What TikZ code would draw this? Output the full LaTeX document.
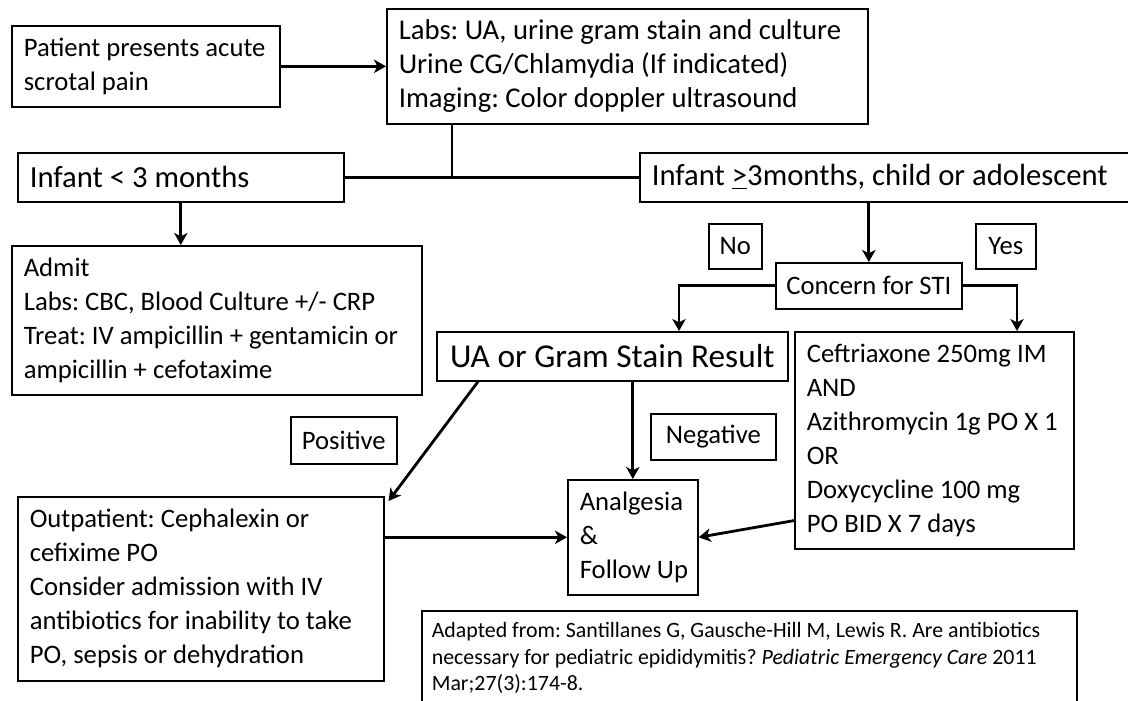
\documentclass[tikz,border=0pt]{standalone}
\usepackage{fontspec}
\setmainfont{Carlito}
\usetikzlibrary{arrows.meta,calc}
\newcommand\fmain{\fontsize{20}{25.5}\selectfont\frenchspacing}
\newcommand\flabs{\fontsize{21.5}{25.5}\selectfont\frenchspacing}
\newcommand\fbig{\fontsize{23}{27}\selectfont\frenchspacing}
\newcommand\fua{\fontsize{25}{28}\selectfont\frenchspacing}
\newcommand\fcite{\fontsize{16.4}{19.8}\selectfont\frenchspacing}
\begin{document}
\begin{tikzpicture}[x=0.75pt,y=-0.75pt,
  box/.style={draw,line width=1.2pt,rectangle,anchor=north west,inner xsep=9pt,inner ysep=0pt,align=flush left,font=\fmain},
  cbox/.style={draw,line width=1.2pt,rectangle,anchor=north west,inner sep=0pt,align=flush center,font=\fmain},
  conn/.style={line width=2.1pt},
  arr/.style={line width=2.1pt,-{Stealth[length=9pt,width=10pt,inset=2.5pt]}}]
\fill[white] (0,0) rectangle (1128,700);
\clip (0,0) rectangle (1128,700);
\node[box,minimum width=201pt,minimum height=60.75pt,text width=183pt] (patient) at (11,25) {\mbox{Patient presents acute}\\scrotal pain};
\node[box,font=\flabs,minimum width=360.75pt,minimum height=86.25pt,text width=342.75pt] (labs) at (386,8) {\mbox{Labs: UA, urine gram stain and culture}\\\mbox{Urine CG/Chlamydia (If indicated)}\\\mbox{Imaging: Color doppler ultrasound}};
\node[box,font=\fbig,minimum width=244.5pt,minimum height=36.75pt,text width=226.5pt] (inf1) at (17,152) {Infant < 3 months};
\node[box,font=\fbig,minimum width=375.75pt,minimum height=36.75pt,text width=357.75pt] (inf2) at (639,152) {\mbox{Infant \underline{>}3months, child or adolescent}};
\node[box,minimum width=307.5pt,minimum height=111.75pt,text width=289.5pt] (admit) at (11,245) {Admit\\\mbox{Labs: CBC, Blood Culture +/- CRP}\\\mbox{Treat: IV ampicillin + gentamicin or}\\\mbox{ampicillin + cefotaxime}};
\node[cbox,minimum width=39.75pt,minimum height=33.75pt] (no) at (708,223) {No};
\node[cbox,minimum width=45pt,minimum height=33.75pt] (yes) at (975,223) {Yes};
\node[cbox,minimum width=139.5pt,minimum height=34.5pt] (sti) at (775,262) {Concern for STI};
\node[cbox,font=\fua,minimum width=263.25pt,minimum height=36.75pt] (ua) at (436,331) {\mbox{UA or Gram Stain Result}};
\node[box,minimum width=209.25pt,minimum height=162.75pt,text width=191.25pt] (ceft) at (794,331) {\mbox{Ceftriaxone 250mg IM}\\AND\\\mbox{Azithromycin 1g PO X 1}\\OR\\\mbox{Doxycycline 100 mg}\\\mbox{PO BID X 7 days}};
\node[cbox,minimum width=79.5pt,minimum height=35.25pt] (pos) at (290,416) {Positive};
\node[cbox,minimum width=93.75pt,minimum height=34.5pt] (neg) at (650,413) {Negative};
\node[box,minimum width=274.5pt,minimum height=138pt,text width=256.5pt] (outp) at (17,496) {\mbox{Outpatient: Cephalexin or}\\cefixime PO\\\mbox{Consider admission with IV}\\\mbox{antibiotics for inability to take}\\\mbox{PO, sepsis or dehydration}};
\node[box,minimum width=97.5pt,minimum height=86.25pt,text width=79.5pt] (analg) at (567,479) {Analgesia\\\&\\\mbox{Follow Up}};
\node[box,font=\fcite,inner xsep=7.5pt,inner ysep=9pt,text width=476.25pt] (cite) at (421,610) {\mbox{Adapted from: Santillanes G, Gausche-Hill M, Lewis R. Are antibiotics}\\\mbox{necessary for pediatric epididymitis? \textit{Pediatric Emergency Care} 2011}\\Mar;27(3):174-8.\\[12pt]};
% connectors
\draw[arr] (patient.east) -- (labs.west);
\coordinate (j) at ($(labs.south west)+(66,0)$);
\draw[conn] (j) -- (j |- inf1.east);
\draw[conn] (inf1.east) -- (inf2.west);
\draw[arr] (inf1.south) -- (inf1.south |- admit.north);
\draw[arr] (inf2.south -| sti.north) -- (sti.north);
\coordinate (ual) at ($(ua.north west)+(243,0)$);
\draw[arr] (sti.west) -| (ual);
\coordinate (cft) at ($(ceft.north west)+(223,0)$);
\draw[arr] (sti.east) -| (cft);
\coordinate (uab) at ($(ua.south west)+(42,0)$);
\coordinate (outc) at ($(outp.north east)+(4,5)$);
\draw[arr] (uab) -- (outc);
\draw[arr] (ua.south -| analg.north) -- (analg.north);
\draw[arr] (outp.east |- analg.west) -- (analg.west);
\coordinate (cfw) at ($(ceft.south west)+(0,-29)$);
\draw[arr] (cfw) -- (analg.east);
\end{tikzpicture}
\end{document}
